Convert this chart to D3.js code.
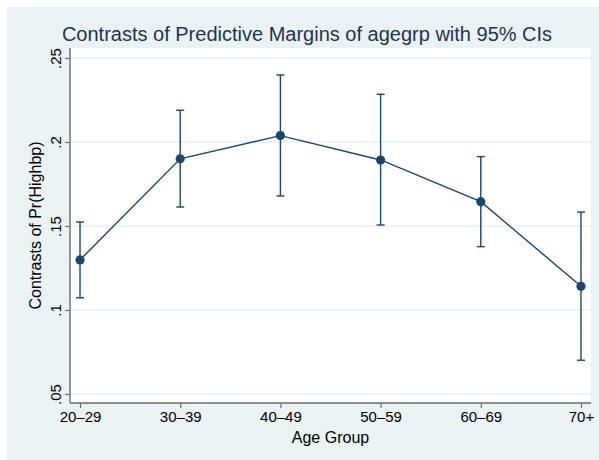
<!DOCTYPE html>
<html>
<head>
<meta charset="utf-8">
<script src="https://cdn.jsdelivr.net/npm/d3@7"></script>
<style>
  body { margin: 0; background: #fff; }
  svg { display: block; font-family: "Liberation Sans", Arial, sans-serif; }
</style>
</head>
<body>
<div id="viz"></div>
<script>
// age groups and contrasts of predictive margins (with 95% CI)
var groups = ["20\u201329", "30\u201339", "40\u201349", "50\u201359", "60\u201369", "70+"];
var margins = [0.1298, 0.1900, 0.2038, 0.1893, 0.1645, 0.1141];
var lower = [0.1073, 0.1613, 0.1679, 0.1506, 0.1377, 0.0701];
var upper = [0.1524, 0.2189, 0.2399, 0.2284, 0.1913, 0.1583];
var yTicks = [0.05, 0.1, 0.15, 0.2, 0.25];
var yTickLabels = [".05", ".1", ".15", ".2", ".25"];

drawChart();

function drawChart()
{
  var W = 599, H = 460;
  var pl = 70, pr = 591, pt = 48, pb = 403;
  var navy = "#1a476f";
  var axisGray = "#6e6e6e";

  var svg = d3.select("#viz").append("svg").attr("width", W).attr("height", H);

  // outer graph region + white plot region
  svg.append("rect").attr("x", 7).attr("y", 7).attr("width", W - 7).attr("height", H - 7)
    .attr("fill", "#eaf2f3");
  svg.append("rect").attr("x", pl).attr("y", pt).attr("width", pr - pl).attr("height", pb - pt)
    .attr("fill", "#fff");

  var x = d3.scaleLinear().domain([-0.1, 5.1]).range([pl, pr]);
  var y = d3.scaleLinear().domain([0.05 - 9 / 84 * 0.05, 0.05 + 346 / 84 * 0.05]).range([pb, pt]);

  // gridlines
  svg.append("g").selectAll("line").data(yTicks).enter().append("line")
    .attr("x1", pl).attr("x2", pr)
    .attr("y1", function(d) { return y(d); }).attr("y2", function(d) { return y(d); })
    .attr("stroke", "#eaf2f3").attr("stroke-width", 1.3);

  // y axis
  var yAxis = d3.axisLeft(y).tickValues(yTicks).tickSize(5)
    .tickFormat(function(d, i) { return yTickLabels[i]; });
  var gy = svg.append("g").attr("transform", "translate(" + pl + ",0)").call(yAxis);
  gy.attr("font-family", null).attr("font-size", null);
  gy.select(".domain").attr("stroke", axisGray).attr("stroke-width", 1.4).attr("d", "M0," + pt + "V" + pb);
  gy.selectAll(".tick line").attr("stroke", axisGray).attr("stroke-width", 1.2);
  gy.selectAll(".tick text")
    .attr("font-size", 15).attr("fill", "#000")
    .attr("transform", "rotate(-90)")
    .attr("x", 0).attr("y", -9).attr("dy", 0)
    .attr("text-anchor", "middle");

  // x axis
  var xAxis = d3.axisBottom(x).tickValues(d3.range(groups.length)).tickSize(5).tickPadding(3)
    .tickFormat(function(d) { return groups[d]; });
  var gx = svg.append("g").attr("transform", "translate(0," + pb + ")").call(xAxis);
  gx.attr("font-family", null).attr("font-size", null);
  gx.select(".domain").attr("stroke", axisGray).attr("stroke-width", 1.4).attr("d", "M" + pl + ",0H" + pr);
  gx.selectAll(".tick line").attr("stroke", axisGray).attr("stroke-width", 1.2);
  gx.selectAll(".tick text").attr("font-size", 15).attr("fill", "#000");

  // error bars
  var bars = svg.append("g").selectAll("g").data(margins).enter().append("g");
  bars.append("line")
    .attr("x1", function(d, i) { return x(i); }).attr("x2", function(d, i) { return x(i); })
    .attr("y1", function(d, i) { return y(lower[i]); }).attr("y2", function(d, i) { return y(upper[i]); })
    .attr("stroke", navy).attr("stroke-width", 1.4);
  [lower, upper].forEach(function(arr) {
    bars.append("line")
      .attr("x1", function(d, i) { return x(i) - 4; }).attr("x2", function(d, i) { return x(i) + 4; })
      .attr("y1", function(d, i) { return y(arr[i]); }).attr("y2", function(d, i) { return y(arr[i]); })
      .attr("stroke", navy).attr("stroke-width", 1.4);
  });

  // connecting line and markers
  var line = d3.line().x(function(d, i) { return x(i); }).y(function(d) { return y(d); });
  svg.append("path").datum(margins).attr("d", line)
    .attr("fill", "none").attr("stroke", navy).attr("stroke-width", 1.4);
  svg.append("g").selectAll("circle").data(margins).enter().append("circle")
    .attr("cx", function(d, i) { return x(i); }).attr("cy", function(d) { return y(d); })
    .attr("r", 4.6).attr("fill", navy);

  // titles
  svg.append("text").attr("x", 307).attr("y", 41).attr("text-anchor", "middle")
    .attr("font-size", 20).attr("fill", "#1e3552")
    .text("Contrasts of Predictive Margins of agegrp with 95% CIs");
  svg.append("text").attr("x", (pl + pr) / 2).attr("y", 443).attr("text-anchor", "middle")
    .attr("font-size", 16).attr("fill", "#000").text("Age Group");
  svg.append("text").attr("transform", "translate(41," + ((pt + pb) / 2) + ") rotate(-90)")
    .attr("text-anchor", "middle").attr("font-size", 16).attr("fill", "#000")
    .text("Contrasts of Pr(Highbp)");
}
</script>
</body>
</html>
